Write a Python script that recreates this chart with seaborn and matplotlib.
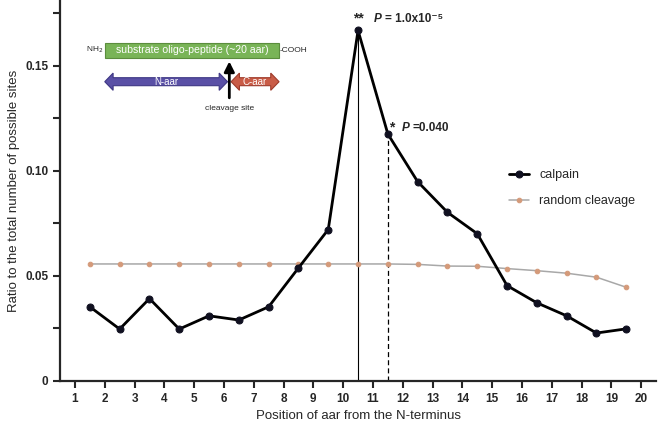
import numpy as np
import pandas as pd
import matplotlib
matplotlib.use("Agg")
import matplotlib.pyplot as plt
import matplotlib.patches as mpatches
import seaborn as sns

# data
positions = [1.5, 2.5, 3.5, 4.5, 5.5, 6.5, 7.5, 8.5, 9.5, 10.5,
             11.5, 12.5, 13.5, 14.5, 15.5, 16.5, 17.5, 18.5, 19.5]
calpain = [0.0353, 0.0247, 0.0392, 0.0247, 0.0310, 0.0290, 0.0353, 0.0538, 0.0721, 0.1669,
           0.1176, 0.0949, 0.0803, 0.0701, 0.0454, 0.0372, 0.0310, 0.0228, 0.0248]
random_cleavage = [0.0557, 0.0557, 0.0557, 0.0557, 0.0557, 0.0557, 0.0557, 0.0557, 0.0557, 0.0557,
                   0.0557, 0.0555, 0.0547, 0.0546, 0.0535, 0.0525, 0.0513, 0.0494, 0.0446]
xticks = list(range(1, 21))

df = pd.DataFrame({"pos": positions, "calpain": calpain, "random": random_cleavage})

sns.set_style("ticks")
plt.rcParams["font.family"] = ["Liberation Sans", "DejaVu Sans"]

fig = plt.figure(figsize=(6.6, 4.28), dpi=100)
ax = fig.add_axes([0.091, 0.11, 0.903, 0.888])

sns.lineplot(data=df, x="pos", y="random", ax=ax, color="#a8a8a8", lw=1.1,
             marker="o", markersize=3.3, markerfacecolor="#d49a7a",
             markeredgecolor="#d49a7a", label="random cleavage", zorder=2)
sns.lineplot(data=df, x="pos", y="calpain", ax=ax, color="black", lw=2,
             marker="o", markersize=5, markerfacecolor="#101020",
             markeredgecolor="#101020", label="calpain", zorder=3)

# vertical reference lines under the two significant positions
ax.vlines(positions[9], 0, calpain[9], color="black", lw=0.8, zorder=1)
ax.vlines(positions[10], 0, calpain[10], color="black", lw=0.9, ls=(0, (4, 2.5)), zorder=1)

ax.set_xlim(0.5, 20.5)
ax.set_ylim(0, 0.181)
ax.set_xticks(xticks)
ax.set_yticks([0, 0.05, 0.10, 0.15])
ax.set_yticklabels(["0", "0.05", "0.10", "0.15"])
ax.set_yticks([0.025, 0.075, 0.125, 0.175], minor=True)
ax.tick_params(axis="both", which="major", length=5, width=1.5, labelsize=8.5, direction="out")
ax.tick_params(axis="y", which="minor", length=5, width=1.5)
for lab in ax.get_xticklabels() + ax.get_yticklabels():
    lab.set_fontweight("bold")
for s in ["left", "bottom"]:
    ax.spines[s].set_linewidth(1.6)
sns.despine(ax=ax)

ax.set_xlabel("Position of aar from the N-terminus", fontsize=9.5)
ax.set_ylabel("Ratio to the total number of possible sites", fontsize=9.5)

# significance labels
ax.text(10.5, 0.1725, "**", ha="center", va="center", fontsize=10, fontweight="bold")
ax.text(11.03, 0.1725, "P", ha="left", va="center", fontsize=8.5, fontweight="bold", style="italic")
ax.text(11.40, 0.1725, "= 1.0x10⁻⁵", ha="left", va="center", fontsize=8.5, fontweight="bold")
ax.text(11.64, 0.1205, "*", ha="center", va="center", fontsize=10, fontweight="bold")
ax.text(11.97, 0.1205, "P", ha="left", va="center", fontsize=8.5, fontweight="bold", style="italic")
ax.text(12.34, 0.1205, "=0.040", ha="left", va="center", fontsize=8.5, fontweight="bold")

handles, labels = ax.get_legend_handles_labels()
ax.legend(handles=handles[::-1], labels=labels[::-1],
          loc="center left", bbox_to_anchor=(0.735, 0.507), frameon=False,
          fontsize=9, handlelength=1.6, labelspacing=1.1)


# inset sketch of the substrate peptide
def double_arrow(x0, x1, yc, color, edge, text):
    hl = 0.28
    bh = 0.0019
    hh = 0.0041
    pts = [(x0, yc), (x0 + hl, yc + hh), (x0 + hl, yc + bh), (x1 - hl, yc + bh),
           (x1 - hl, yc + hh), (x1, yc), (x1 - hl, yc - hh), (x1 - hl, yc - bh),
           (x0 + hl, yc - bh), (x0 + hl, yc - hh)]
    ax.add_patch(mpatches.Polygon(pts, closed=True, fc=color, ec=edge, lw=0.8, zorder=4))
    ax.text((x0 + x1) / 2, yc, text, ha="center", va="center", color="white", fontsize=7, zorder=5)


ax.add_patch(mpatches.Rectangle((2.0, 0.1539), 5.85, 0.0072, fc="#79b457", ec="#5b8d3d",
                                lw=0.8, zorder=4))
ax.text(4.93, 0.1575, "substrate oligo-peptide (~20 aar)", ha="center", va="center",
        color="white", fontsize=7.6, zorder=5)
ax.text(1.95, 0.1575, "NH$_2$", ha="right", va="center", fontsize=6)
ax.text(7.87, 0.1575, "-COOH", ha="left", va="center", fontsize=6)
double_arrow(2.0, 6.12, 0.1425, "#5a50a6", "#3e3784", "N-aar")
double_arrow(6.24, 7.85, 0.1425, "#c95c47", "#9e3b2b", "C-aar")
ax.annotate("", xy=(6.18, 0.1535), xytext=(6.18, 0.1335),
            arrowprops=dict(arrowstyle="-|>,head_length=0.6,head_width=0.3", color="black", lw=2),
            zorder=6)
ax.text(6.18, 0.1315, "cleavage site", ha="center", va="top", fontsize=6)

fig.savefig("out.png", dpi=100)
